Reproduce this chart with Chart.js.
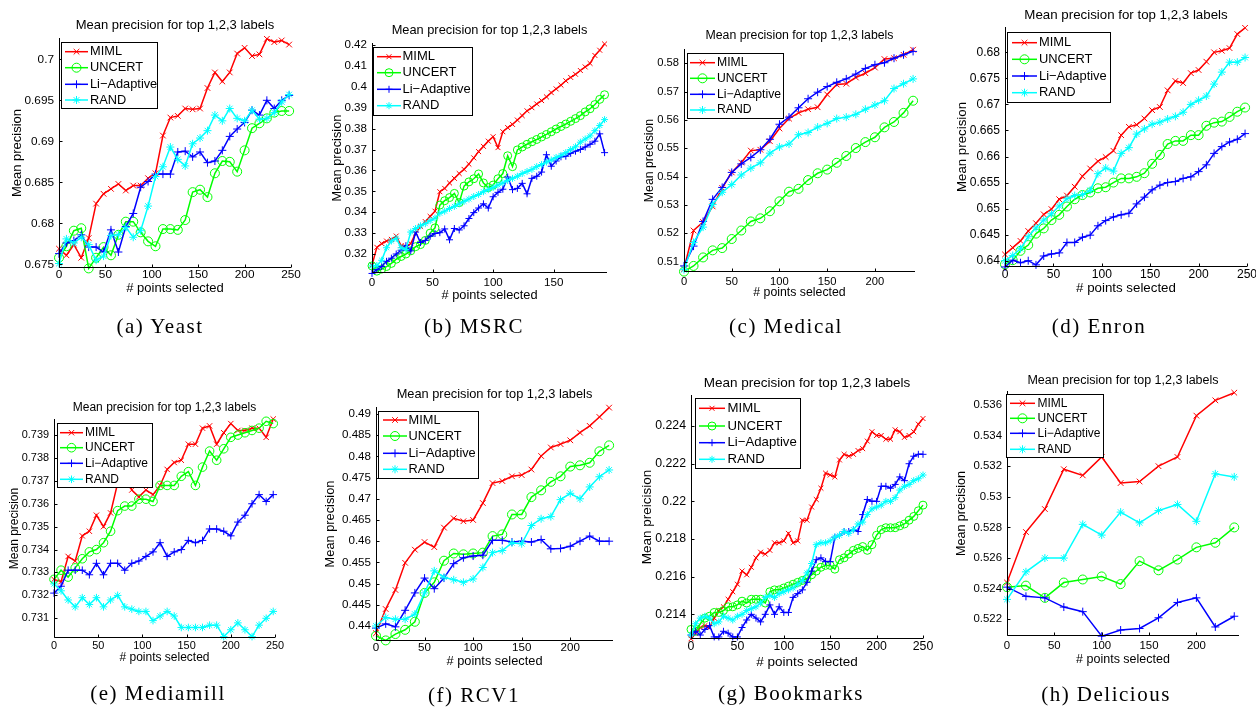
<!DOCTYPE html>
<html>
<head>
<meta charset="utf-8">
<title>Mean precision for top 1,2,3 labels</title>
<script src="https://cdn.jsdelivr.net/npm/chart.js@4.4.1/dist/chart.umd.min.js"></script>
<style>
  html, body { margin: 0; padding: 0; background: #fff; }
  #fig { position: relative; width: 1256px; height: 707px; overflow: hidden; background: #fff; }
  #fig canvas { position: absolute; left: 0; top: 0; }
  .caption {
    position: absolute; transform: translate(-50%, -50%); white-space: nowrap;
    font-family: 'Liberation Serif', 'DejaVu Serif', serif; font-size: 21px; letter-spacing: 1.5px; color: #000;
  }
</style>
</head>
<body>
<div id="fig"></div>
<script>
// ---- series ----
const seriesNames = ['MIML', 'UNCERT', 'Li\u2212Adaptive', 'RAND'];
const seriesColors = ['#ff0000', '#00ff00', '#0000ff', '#00ffff'];
const seriesMarkers = ['crossRot', 'circle', 'cross', 'star'];

// ---- shared x ticks ----
const xTicks250 = [0, 50, 100, 150, 200, 250];
const xTicks200 = [0, 50, 100, 150, 200];
const xTicks150 = [0, 50, 100, 150];

// ---- (a) Yeast ----
const yeastX = [0, 8, 16, 24, 32, 40, 48, 56, 64, 72, 80, 88, 96, 104, 112, 120, 128, 136, 144, 152, 160, 168, 176, 184, 192, 200, 208, 216, 224, 232, 240, 248];
const yeastMIML = [0.6769, 0.6761, 0.6774, 0.6758, 0.6782, 0.6824, 0.6836, 0.6842, 0.6848, 0.6840, 0.6846, 0.6846, 0.6855, 0.6861, 0.6907, 0.6929, 0.6931, 0.6940, 0.6939, 0.6940, 0.6965, 0.6984, 0.6973, 0.6984, 0.7007, 0.7014, 0.7004, 0.7006, 0.7025, 0.7021, 0.7023, 0.7018];
const yeastUNCERT = [0.6758, 0.6772, 0.6791, 0.6794, 0.6745, 0.6758, 0.6771, 0.6761, 0.6786, 0.6802, 0.6802, 0.6789, 0.6778, 0.6772, 0.6793, 0.6793, 0.6792, 0.6804, 0.6838, 0.6841, 0.6832, 0.6861, 0.6876, 0.6875, 0.6863, 0.6889, 0.6916, 0.6922, 0.6928, 0.6935, 0.6937, 0.6937];
const yeastLi = [0.6763, 0.6776, 0.6779, 0.6786, 0.6771, 0.6771, 0.6765, 0.6792, 0.6765, 0.6796, 0.6812, 0.6844, 0.6851, 0.6860, 0.6860, 0.6860, 0.6887, 0.6888, 0.6881, 0.6887, 0.6874, 0.6876, 0.6889, 0.6906, 0.6915, 0.6923, 0.6938, 0.6932, 0.6950, 0.6940, 0.6950, 0.6956];
const yeastRAND = [0.6751, 0.6781, 0.6776, 0.6783, 0.6774, 0.6755, 0.6760, 0.6785, 0.6786, 0.6795, 0.6783, 0.6791, 0.6821, 0.6857, 0.6869, 0.6893, 0.6878, 0.6870, 0.6897, 0.6904, 0.6913, 0.6932, 0.6925, 0.6940, 0.6928, 0.6925, 0.6938, 0.6927, 0.6928, 0.6935, 0.6948, 0.6957];
const yeastYTicks = [0.675, 0.68, 0.685, 0.69, 0.695, 0.7];

// ---- (b) MSRC ----
const msrcX = [0, 4, 8, 12, 16, 20, 24, 28, 32, 36, 40, 44, 48, 52, 56, 60, 64, 68, 72, 76, 80, 84, 88, 92, 96, 100, 104, 108, 112, 116, 120, 124, 128, 132, 136, 140, 144, 148, 152, 156, 160, 164, 168, 172, 176, 180, 184, 188, 192];
const msrcMIML = [0.3147, 0.3232, 0.3250, 0.3262, 0.3270, 0.3286, 0.3240, 0.3235, 0.3250, 0.3300, 0.3331, 0.3355, 0.3380, 0.3405, 0.3498, 0.3514, 0.3540, 0.3562, 0.3585, 0.3605, 0.3630, 0.3660, 0.3690, 0.3715, 0.3740, 0.3761, 0.3709, 0.3785, 0.3805, 0.3820, 0.3841, 0.3862, 0.3885, 0.3900, 0.3918, 0.3934, 0.3952, 0.3972, 0.3990, 0.4008, 0.4029, 0.4045, 0.4060, 0.4078, 0.4095, 0.4112, 0.4150, 0.4175, 0.4205];
const msrcUNCERT = [0.3143, 0.3118, 0.3128, 0.3140, 0.3155, 0.3175, 0.3188, 0.3200, 0.3215, 0.3235, 0.3245, 0.3265, 0.3300, 0.3325, 0.3434, 0.3455, 0.3470, 0.3490, 0.3446, 0.3525, 0.3545, 0.3560, 0.3583, 0.3540, 0.3518, 0.3530, 0.3560, 0.3585, 0.3670, 0.3618, 0.3698, 0.3712, 0.3725, 0.3737, 0.3748, 0.3760, 0.3772, 0.3785, 0.3798, 0.3810, 0.3822, 0.3835, 0.3848, 0.3862, 0.3880, 0.3895, 0.3915, 0.3940, 0.3962];
const msrcLi = [0.3107, 0.3125, 0.3140, 0.3165, 0.3180, 0.3200, 0.3218, 0.3240, 0.3215, 0.3305, 0.3255, 0.3265, 0.3285, 0.3298, 0.3302, 0.3320, 0.3268, 0.3322, 0.3315, 0.3335, 0.3370, 0.3398, 0.3420, 0.3440, 0.3420, 0.3474, 0.3495, 0.3510, 0.3568, 0.3508, 0.3514, 0.3538, 0.3488, 0.3562, 0.3572, 0.3592, 0.3675, 0.3620, 0.3645, 0.3665, 0.3668, 0.3682, 0.3692, 0.3700, 0.3712, 0.3725, 0.3740, 0.3775, 0.3685];
const msrcRAND = [0.3143, 0.3145, 0.3170, 0.3230, 0.3262, 0.3275, 0.3230, 0.3222, 0.3305, 0.3322, 0.3335, 0.3345, 0.3360, 0.3372, 0.3395, 0.3405, 0.3418, 0.3428, 0.3440, 0.3452, 0.3463, 0.3475, 0.3485, 0.3498, 0.3508, 0.3518, 0.3530, 0.3540, 0.3552, 0.3562, 0.3572, 0.3585, 0.3595, 0.3605, 0.3618, 0.3628, 0.3640, 0.3650, 0.3662, 0.3672, 0.3685, 0.3700, 0.3713, 0.3735, 0.3750, 0.3765, 0.3790, 0.3815, 0.3843];
const msrcYTicks = [0.32, 0.33, 0.34, 0.35, 0.36, 0.37, 0.38, 0.39, 0.4, 0.41, 0.42];

// ---- (c) Medical ----
const medX = [0, 10, 20, 30, 40, 50, 60, 70, 80, 90, 100, 110, 120, 130, 140, 150, 160, 170, 180, 190, 200, 210, 220, 230, 240];
const medMIML = [0.5075, 0.5210, 0.5240, 0.5295, 0.5360, 0.5415, 0.5450, 0.5492, 0.5495, 0.5525, 0.5570, 0.5605, 0.5625, 0.5638, 0.5645, 0.5690, 0.5725, 0.5728, 0.5750, 0.5765, 0.5785, 0.5815, 0.5818, 0.5830, 0.5848];
const medUNCERT = [0.5065, 0.5085, 0.5115, 0.5140, 0.5148, 0.5180, 0.5210, 0.5242, 0.5253, 0.5278, 0.5313, 0.5347, 0.5357, 0.5388, 0.5412, 0.5425, 0.5449, 0.5473, 0.5501, 0.5522, 0.5539, 0.5574, 0.5593, 0.5625, 0.5668];
const medLi = [0.5085, 0.5155, 0.5242, 0.5320, 0.5362, 0.5415, 0.5445, 0.5468, 0.5495, 0.5532, 0.5585, 0.5610, 0.5643, 0.5675, 0.5698, 0.5718, 0.5733, 0.5745, 0.5762, 0.5782, 0.5795, 0.5802, 0.5818, 0.5830, 0.5842];
const medRAND = [0.5072, 0.5168, 0.5222, 0.5302, 0.5345, 0.5372, 0.5406, 0.5430, 0.5449, 0.5483, 0.5505, 0.5515, 0.5548, 0.5556, 0.5575, 0.5588, 0.5605, 0.5610, 0.5620, 0.5638, 0.5653, 0.5668, 0.5711, 0.5728, 0.5745];
const medYTicks = [0.51, 0.52, 0.53, 0.54, 0.55, 0.56, 0.57, 0.58];

// ---- (d) Enron ----
const enronX = [0, 8, 16, 24, 32, 40, 48, 56, 64, 72, 80, 88, 96, 104, 112, 120, 128, 136, 144, 152, 160, 168, 176, 184, 192, 200, 208, 216, 224, 232, 240, 248];
const enronMIML = [0.6412, 0.6425, 0.6438, 0.6457, 0.6472, 0.6489, 0.6499, 0.6518, 0.6525, 0.6542, 0.6562, 0.6577, 0.6591, 0.6599, 0.6611, 0.6641, 0.6657, 0.6661, 0.6673, 0.6689, 0.6695, 0.6727, 0.6745, 0.6741, 0.6760, 0.6766, 0.6782, 0.6800, 0.6803, 0.6808, 0.6835, 0.6847];
const enronUNCERT = [0.6393, 0.6401, 0.6419, 0.6430, 0.6452, 0.6462, 0.6478, 0.6488, 0.6504, 0.6518, 0.6526, 0.6531, 0.6539, 0.6541, 0.6550, 0.6558, 0.6558, 0.6561, 0.6568, 0.6586, 0.6603, 0.6624, 0.6630, 0.6630, 0.6641, 0.6641, 0.6659, 0.6665, 0.6667, 0.6676, 0.6686, 0.6694];
const enronLi = [0.6388, 0.6401, 0.6396, 0.6400, 0.6392, 0.6409, 0.6413, 0.6415, 0.6435, 0.6435, 0.6445, 0.6449, 0.6467, 0.6477, 0.6484, 0.6488, 0.6491, 0.6509, 0.6522, 0.6536, 0.6545, 0.6550, 0.6552, 0.6558, 0.6561, 0.6571, 0.6584, 0.6606, 0.6619, 0.6628, 0.6633, 0.6644];
const enronRAND = [0.6400, 0.6410, 0.6423, 0.6446, 0.6463, 0.6478, 0.6490, 0.6505, 0.6519, 0.6525, 0.6527, 0.6535, 0.6567, 0.6578, 0.6572, 0.6606, 0.6617, 0.6643, 0.6653, 0.6662, 0.6666, 0.6672, 0.6677, 0.6685, 0.6700, 0.6708, 0.6716, 0.6739, 0.6762, 0.6781, 0.6781, 0.6790];
const enronYTicks = [0.64, 0.645, 0.65, 0.655, 0.66, 0.665, 0.67, 0.675, 0.68];

// ---- (e) Mediamill ----
const mmX = [0, 8, 16, 24, 32, 40, 48, 56, 64, 72, 80, 88, 96, 104, 112, 120, 128, 136, 144, 152, 160, 168, 176, 184, 192, 200, 208, 216, 224, 232, 240, 248];
const mmMIML = [0.7327, 0.7326, 0.7337, 0.7335, 0.7346, 0.7348, 0.7355, 0.7350, 0.7356, 0.7369, 0.7374, 0.7366, 0.7363, 0.7366, 0.7364, 0.7368, 0.7375, 0.7378, 0.7379, 0.7386, 0.7386, 0.7393, 0.7394, 0.7386, 0.7391, 0.7395, 0.7392, 0.7392, 0.7393, 0.7393, 0.7389, 0.7397];
const mmUNCERT = [0.7327, 0.7331, 0.7328, 0.7332, 0.7336, 0.7339, 0.7340, 0.7343, 0.7348, 0.7357, 0.7359, 0.7359, 0.7362, 0.7362, 0.7361, 0.7368, 0.7368, 0.7368, 0.7372, 0.7374, 0.7368, 0.7376, 0.7383, 0.7379, 0.7384, 0.7389, 0.7390, 0.7391, 0.7392, 0.7393, 0.7396, 0.7395];
const mmLi = [0.7321, 0.7324, 0.7331, 0.7331, 0.7331, 0.7329, 0.7334, 0.7329, 0.7334, 0.7334, 0.7331, 0.7334, 0.7335, 0.7337, 0.7339, 0.7343, 0.7337, 0.7339, 0.7340, 0.7344, 0.7343, 0.7344, 0.7349, 0.7349, 0.7348, 0.7346, 0.7352, 0.7355, 0.7360, 0.7364, 0.7361, 0.7364];
const mmRAND = [0.7325, 0.7322, 0.7318, 0.7315, 0.7319, 0.7316, 0.7319, 0.7315, 0.7318, 0.7320, 0.7315, 0.7314, 0.7313, 0.7313, 0.7309, 0.7311, 0.7313, 0.7311, 0.7306, 0.7306, 0.7306, 0.7306, 0.7307, 0.7307, 0.7302, 0.7305, 0.7308, 0.7305, 0.7302, 0.7307, 0.7310, 0.7313];
const mmYTicks = [0.731, 0.732, 0.733, 0.734, 0.735, 0.736, 0.737, 0.738, 0.739];

// ---- (f) RCV1 ----
const rcvX = [0, 10, 20, 30, 40, 50, 60, 70, 80, 90, 100, 110, 120, 130, 140, 150, 160, 170, 180, 190, 200, 210, 220, 230, 240];
const rcvMIML = [0.4383, 0.4440, 0.4485, 0.4549, 0.4580, 0.4598, 0.4586, 0.4632, 0.4654, 0.4647, 0.4650, 0.4690, 0.4737, 0.4742, 0.4753, 0.4756, 0.4769, 0.4801, 0.4821, 0.4829, 0.4838, 0.4856, 0.4872, 0.4893, 0.4915];
const rcvUNCERT = [0.4377, 0.4366, 0.4381, 0.4391, 0.4410, 0.4478, 0.4503, 0.4554, 0.4571, 0.4569, 0.4571, 0.4573, 0.4612, 0.4616, 0.4663, 0.4663, 0.4704, 0.4720, 0.4740, 0.4753, 0.4776, 0.4779, 0.4785, 0.4812, 0.4826];
const rcvLi = [0.4395, 0.4405, 0.4398, 0.4437, 0.4478, 0.4513, 0.4488, 0.4513, 0.4547, 0.4561, 0.4565, 0.4567, 0.4602, 0.4602, 0.4598, 0.4600, 0.4598, 0.4604, 0.4582, 0.4583, 0.4588, 0.4600, 0.4612, 0.4600, 0.4600];
const rcvRAND = [0.4400, 0.4420, 0.4416, 0.4416, 0.4428, 0.4478, 0.4530, 0.4515, 0.4509, 0.4503, 0.4511, 0.4538, 0.4573, 0.4578, 0.4596, 0.4594, 0.4637, 0.4653, 0.4658, 0.4698, 0.4713, 0.4700, 0.4728, 0.4752, 0.4768];
const rcvYTicks = [0.44, 0.445, 0.45, 0.455, 0.46, 0.465, 0.47, 0.475, 0.48, 0.485, 0.49];

// ---- (g) Bookmarks ----
const bmX = [0, 5, 10, 15, 20, 25, 30, 35, 40, 45, 50, 55, 60, 65, 70, 75, 80, 85, 90, 95, 100, 105, 110, 115, 120, 125, 130, 135, 140, 145, 150, 155, 160, 165, 170, 175, 180, 185, 190, 195, 200, 205, 210, 215, 220, 225, 230, 235, 240, 245, 250];
const bmMIML = [0.2127, 0.2130, 0.2133, 0.2134, 0.2133, 0.2138, 0.2142, 0.2144, 0.2148, 0.2152, 0.2156, 0.2163, 0.2161, 0.2165, 0.2170, 0.2173, 0.2172, 0.2174, 0.2178, 0.2178, 0.2179, 0.2183, 0.2178, 0.2179, 0.2190, 0.2190, 0.2197, 0.2201, 0.2207, 0.2215, 0.2214, 0.2213, 0.2222, 0.2225, 0.2224, 0.2225, 0.2227, 0.2228, 0.2232, 0.2237, 0.2235, 0.2235, 0.2233, 0.2233, 0.2238, 0.2237, 0.2234, 0.2235, 0.2237, 0.2241, 0.2244];
const bmUNCERT = [0.2132, 0.2131, 0.2135, 0.2138, 0.2139, 0.2141, 0.2141, 0.2142, 0.2144, 0.2144, 0.2145, 0.2147, 0.2146, 0.2148, 0.2148, 0.2148, 0.2146, 0.2152, 0.2153, 0.2153, 0.2154, 0.2155, 0.2156, 0.2157, 0.2158, 0.2159, 0.2161, 0.2163, 0.2165, 0.2166, 0.2166, 0.2164, 0.2169, 0.2170, 0.2172, 0.2174, 0.2175, 0.2176, 0.2174, 0.2177, 0.2182, 0.2185, 0.2186, 0.2186, 0.2186, 0.2187, 0.2188, 0.2190, 0.2192, 0.2195, 0.2198];
const bmLi = [0.2129, 0.2131, 0.2129, 0.2132, 0.2134, 0.2128, 0.2128, 0.2131, 0.2130, 0.2128, 0.2128, 0.2133, 0.2137, 0.2140, 0.2138, 0.2136, 0.2140, 0.2145, 0.2140, 0.2144, 0.2141, 0.2141, 0.2149, 0.2151, 0.2153, 0.2157, 0.2163, 0.2169, 0.2170, 0.2168, 0.2168, 0.2181, 0.2182, 0.2184, 0.2184, 0.2185, 0.2184, 0.2193, 0.2201, 0.2200, 0.2200, 0.2208, 0.2208, 0.2207, 0.2209, 0.2213, 0.2211, 0.2220, 0.2224, 0.2225, 0.2225];
const bmRAND = [0.2129, 0.2135, 0.2138, 0.2139, 0.2138, 0.2135, 0.2136, 0.2139, 0.2138, 0.2137, 0.2139, 0.2140, 0.2142, 0.2143, 0.2144, 0.2146, 0.2149, 0.2150, 0.2149, 0.2151, 0.2152, 0.2153, 0.2154, 0.2156, 0.2158, 0.2162, 0.2167, 0.2177, 0.2178, 0.2178, 0.2179, 0.2181, 0.2182, 0.2184, 0.2183, 0.2185, 0.2188, 0.2189, 0.2193, 0.2196, 0.2197, 0.2198, 0.2200, 0.2200, 0.2202, 0.2206, 0.2208, 0.2209, 0.2211, 0.2212, 0.2214];
const bmYTicks = [0.214, 0.216, 0.218, 0.22, 0.222, 0.224];

// ---- (h) Delicious ----
const delX = [0, 20, 40, 60, 80, 100, 120, 140, 160, 180, 200, 220, 240];
const delMIML = [0.5244, 0.5277, 0.5292, 0.5318, 0.5314, 0.5326, 0.5309, 0.5310, 0.5320, 0.5326, 0.5353, 0.5363, 0.5368];
const delUNCERT = [0.5241, 0.5242, 0.5234, 0.5244, 0.5246, 0.5248, 0.5243, 0.5258, 0.5252, 0.5259, 0.5267, 0.5270, 0.5280];
const delLi = [0.5241, 0.5235, 0.5234, 0.5228, 0.5225, 0.5209, 0.5213, 0.5214, 0.5221, 0.5231, 0.5234, 0.5215, 0.5222];
const delRAND = [0.5233, 0.5251, 0.5260, 0.5260, 0.5282, 0.5275, 0.5290, 0.5283, 0.5291, 0.5295, 0.5284, 0.5315, 0.5313];
const delYTicks = [0.522, 0.524, 0.526, 0.528, 0.53, 0.532, 0.534, 0.536];

// ---- layout of the eight panels (pixel positions, sizes) ----
const W = 1256, H = 707;
const FONT = "'Liberation Sans', Arial, Helvetica, sans-serif";
const LINE_W = 1.5;
const TITLE = 'Mean precision for top 1,2,3 labels';
const XLABEL = '# points selected';

const panels = [
  { id: 'a', caption: '(a) Yeast', capX: 160, capY: 326, x: yeastX, series: [yeastMIML, yeastUNCERT, yeastLi, yeastRAND],
    xTicks: xTicks250, yTicks: yeastYTicks, xRange: [0, 250], yRange: [0.67455, 0.7026],
    box: [59, 38, 291, 268], titleY: 25, xTickY: 275, xLabelY: 288, yLabelX: 17, fs: 13, mr: 4, yLabel: 'Mean precision',
    legend: { box: [61, 42, 157, 108], rows: [51.7, 67.7, 84.3, 100], line: [65, 88], textX: 90, fs: 12.8 } },
  { id: 'b', caption: '(b) MSRC', capX: 474, capY: 326, x: msrcX, series: [msrcMIML, msrcUNCERT, msrcLi, msrcRAND],
    xTicks: xTicks150, yTicks: msrcYTicks, xRange: [0, 194], yRange: [0.31091, 0.42096],
    box: [372, 43, 607, 273], titleY: 30.7, xTickY: 283, xLabelY: 295, yLabelX: 337, fs: 12.8, mr: 3.5, yLabel: 'Mean precision',
    legend: { box: [373, 47, 472, 115], rows: [56.7, 72.7, 89.3, 105.7], line: [377, 401], textX: 402.5, fs: 13 } },
  { id: 'c', caption: '(c) Medical', capX: 786, capY: 326, x: medX, series: [medMIML, medUNCERT, medLi, medRAND],
    xTicks: xTicks200, yTicks: medYTicks, xRange: [0, 242], yRange: [0.50636, 0.58505],
    box: [684, 49, 915, 272], titleY: 36, xTickY: 281.7, xLabelY: 293, yLabelX: 650, fs: 12.3, mr: 4, yLabel: 'Mean precision',
    legend: { box: [687, 53, 783, 118], rows: [62.7, 78.3, 94.3, 110], line: [690, 715], textX: 717, fs: 12.2 } },
  { id: 'd', caption: '(d) Enron', capX: 1099, capY: 326, x: enronX, series: [enronMIML, enronUNCERT, enronLi, enronRAND],
    xTicks: xTicks250, yTicks: enronYTicks, xRange: [0, 250], yRange: [0.63879, 0.68486],
    box: [1005, 27, 1247, 267], titleY: 15, xTickY: 275, xLabelY: 288, yLabelX: 962, fs: 13.3, mr: 4, yLabel: 'Mean precision',
    legend: { box: [1007, 32, 1110, 102], rows: [42.7, 59.3, 76, 92.7], line: [1012, 1037], textX: 1039, fs: 12.9 } },
  { id: 'e', caption: '(e) Mediamill', capX: 158, capY: 693, x: mmX, series: [mmMIML, mmUNCERT, mmLi, mmRAND],
    xTicks: xTicks250, yTicks: mmYTicks, xRange: [0, 250], yRange: [0.73014, 0.7397],
    box: [54, 419, 275, 638], titleY: 407.3, xTickY: 646, xLabelY: 657.3, yLabelX: 15, fs: 12, mr: 3.8, yLabel: 'Mean precision',
    legend: { box: [57, 423, 152, 487], rows: [432.7, 447.7, 463.3, 479.3], line: [60, 83], textX: 85, fs: 12 } },
  { id: 'f', caption: '(f) RCV1', capX: 474, capY: 695, x: rcvX, series: [rcvMIML, rcvUNCERT, rcvLi, rcvRAND],
    xTicks: xTicks200, yTicks: rcvYTicks, xRange: [0, 244], yRange: [0.43646, 0.49165],
    box: [376, 407, 613, 641], titleY: 394, xTickY: 648, xLabelY: 661, yLabelX: 330, fs: 12.8, mr: 4, yLabel: 'Mean precision',
    legend: { box: [378, 411, 478, 478], rows: [420, 436, 453.3, 469.3], line: [383, 407], textX: 408.5, fs: 12.8 } },
  { id: 'g', caption: '(g) Bookmarks', capX: 791, capY: 693, x: bmX, series: [bmMIML, bmUNCERT, bmLi, bmRAND],
    xTicks: xTicks250, yTicks: bmYTicks, xRange: [0, 250], yRange: [0.21269, 0.22565],
    box: [691, 395, 923, 639], titleY: 383.3, xTickY: 647, xLabelY: 662, yLabelX: 647, fs: 13.5, mr: 3.5, yLabel: 'Mean preicision',
    legend: { box: [695, 398, 800, 468], rows: [408.3, 426, 442.7, 459.3], line: [699, 725], textX: 727.5, fs: 13.2 } },
  { id: 'h', caption: '(h) Delicious', capX: 1106, capY: 694, x: delX, series: [delMIML, delUNCERT, delLi, delRAND],
    xTicks: xTicks200, yTicks: delYTicks, xRange: [0, 245], yRange: [0.52091, 0.53691],
    box: [1007, 391, 1239, 636], titleY: 381, xTickY: 646, xLabelY: 659.3, yLabelX: 962, fs: 12.5, mr: 4, yLabel: 'Mean precision',
    legend: { box: [1006, 394, 1103, 457], rows: [403.3, 418.3, 433.3, 449.3], line: [1010, 1035], textX: 1037.5, fs: 12 } }
];

function drawMarker(ctx, style, x, y, r) {
  const d = r * Math.SQRT1_2;
  ctx.beginPath();
  if (style === 'circle') {
    ctx.arc(x, y, r, 0, Math.PI * 2);
  }
  if (style === 'cross' || style === 'star') {
    ctx.moveTo(x - r, y); ctx.lineTo(x + r, y);
    ctx.moveTo(x, y - r); ctx.lineTo(x, y + r);
  }
  if (style === 'crossRot' || style === 'star') {
    ctx.moveTo(x - d, y - d); ctx.lineTo(x + d, y + d);
    ctx.moveTo(x - d, y + d); ctx.lineTo(x + d, y - d);
  }
  ctx.stroke();
}

// axes, ticks, texts and legend in the matlab look
function makeDecor(p) {
  return {
    id: 'decor_' + p.id,
    afterDraw(chart) {
      const ctx = chart.ctx;
      const area = chart.chartArea;
      const xs = chart.scales.x, ys = chart.scales.y;
      const L = Math.round(area.left) + 0.5, B = Math.round(area.bottom) - 0.5;
      ctx.save();
      ctx.strokeStyle = '#000';
      ctx.fillStyle = '#000';
      ctx.lineWidth = 1;

      ctx.beginPath();
      ctx.moveTo(L, Math.round(area.top));
      ctx.lineTo(L, B);
      ctx.lineTo(Math.round(area.right), B);
      p.yTicks.forEach(v => { const y = Math.round(ys.getPixelForValue(v)) + 0.5; ctx.moveTo(L, y); ctx.lineTo(L + 3, y); });
      p.xTicks.forEach(v => { const x = Math.round(xs.getPixelForValue(v)) + 0.5; ctx.moveTo(x, B); ctx.lineTo(x, B - 3); });
      ctx.stroke();

      ctx.font = (p.fs / 1.1).toFixed(1) + 'px ' + FONT;
      ctx.textAlign = 'right';
      ctx.textBaseline = 'middle';
      p.yTicks.forEach(v => ctx.fillText(String(v), area.left - 5, ys.getPixelForValue(v)));
      ctx.textAlign = 'center';
      p.xTicks.forEach(v => ctx.fillText(String(v), xs.getPixelForValue(v), p.xTickY));

      ctx.font = p.fs + 'px ' + FONT;
      const cx = (area.left + area.right) / 2;
      ctx.fillText(TITLE, cx, p.titleY);
      ctx.fillText(XLABEL, cx, p.xLabelY);
      ctx.save();
      ctx.translate(p.yLabelX, (area.top + area.bottom) / 2);
      ctx.rotate(-Math.PI / 2);
      ctx.fillText(p.yLabel, 0, 0);
      ctx.restore();

      // legend
      const lg = p.legend;
      const bx = lg.box;
      ctx.fillStyle = '#fff';
      ctx.fillRect(bx[0], bx[1], bx[2] - bx[0], bx[3] - bx[1]);
      ctx.strokeStyle = '#000';
      ctx.lineWidth = 1;
      ctx.strokeRect(bx[0] + 0.5, bx[1] + 0.5, bx[2] - bx[0], bx[3] - bx[1]);
      ctx.font = lg.fs + 'px ' + FONT;
      ctx.textAlign = 'left';
      seriesNames.forEach((name, i) => {
        const y = lg.rows[i];
        ctx.strokeStyle = seriesColors[i];
        ctx.lineWidth = LINE_W;
        ctx.beginPath();
        ctx.moveTo(lg.line[0], y);
        ctx.lineTo(lg.line[1], y);
        ctx.stroke();
        ctx.lineWidth = 1;
        const r = seriesMarkers[i] === 'circle' ? p.mr + 0.5 : p.mr;
        drawMarker(ctx, seriesMarkers[i], (lg.line[0] + lg.line[1]) / 2, y, r);
        ctx.fillStyle = '#000';
        ctx.fillText(name, lg.textX, y);
      });
      ctx.restore();
    }
  };
}

const fig = document.getElementById('fig');

panels.forEach(p => {
  const canvas = document.createElement('canvas');
  canvas.width = W;
  canvas.height = H;
  canvas.style.width = W + 'px';
  canvas.style.height = H + 'px';
  fig.appendChild(canvas);

  const cap = document.createElement('div');
  cap.className = 'caption';
  cap.style.left = p.capX + 'px';
  cap.style.top = p.capY + 'px';
  cap.textContent = p.caption;
  fig.appendChild(cap);

  const datasets = p.series.map((ys, i) => {
    const circle = seriesMarkers[i] === 'circle';
    const r = circle ? p.mr + 0.5 : p.mr;
    return {
      label: seriesNames[i],
      data: ys.map((v, k) => ({ x: p.x[k], y: v })),
      borderColor: seriesColors[i],
      backgroundColor: seriesColors[i],
      borderWidth: LINE_W,
      pointStyle: seriesMarkers[i],
      pointRadius: r,
      pointHoverRadius: r,
      pointBorderWidth: 1,
      pointBorderColor: seriesColors[i],
      pointBackgroundColor: circle ? 'rgba(0,0,0,0)' : seriesColors[i],
      tension: 0,
      fill: false,
      clip: false,
      order: 4 - i
    };
  });

  new Chart(canvas, {
    type: 'line',
    data: { datasets },
    options: {
      responsive: false,
      animation: false,
      events: [],
      layout: { padding: { left: p.box[0], top: p.box[1], right: W - p.box[2], bottom: H - p.box[3] } },
      plugins: { legend: { display: false }, tooltip: { enabled: false }, title: { display: false } },
      scales: {
        x: { type: 'linear', display: false, min: p.xRange[0], max: p.xRange[1] },
        y: { type: 'linear', display: false, min: p.yRange[0], max: p.yRange[1] }
      }
    },
    plugins: [makeDecor(p)]
  });
});
</script>
</body>
</html>
